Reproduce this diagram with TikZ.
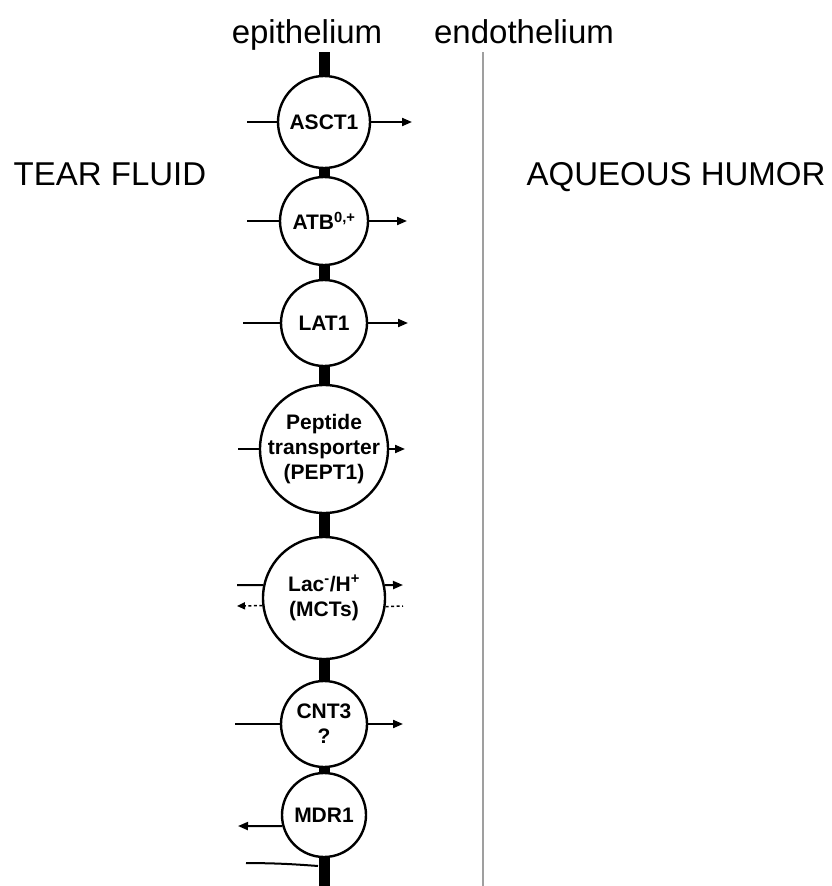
\documentclass[tikz,border=0pt]{standalone}
\usepackage{fontspec}
\setmainfont{Liberation Sans}
\usetikzlibrary{arrows.meta, positioning}

\tikzset{
  tissue/.style={anchor=base, inner sep=0pt, font=\fontsize{33}{38}\selectfont},
  transporter/.style={circle, draw, line width=2.4pt, fill=white, inner sep=0pt, align=center, font=\fontsize{21}{25}\selectfont\bfseries},
  membrane/.style={line width=11pt},
  flux/.style={line width=2pt},
  influx/.style={flux, -{Triangle[length=10pt,width=8pt]}},
  backflux/.style={line width=1.5pt, dash pattern=on 3pt off 2.5pt}
}

\begin{document}
\begin{tikzpicture}[x=1pt, y=-1pt]
\useasboundingbox (0,0) rectangle (831,886);

            % labels
            \node[tissue] (epi) at (307,43) {epithelium};
            \node[tissue] (endo) at (524,43) {endothelium};
            \node[tissue] (tear) at (110,185) {TEAR FLUID};
            \node[tissue] (aqueous) at (676,185) {AQUEOUS HUMOR};

            % transporters
            \node[transporter, minimum size=92pt] (asct) at (324,122) {ASCT1};
            \node[transporter, minimum size=88pt] (atb) at (324,221) {ATB\textsuperscript{0,+}};
            \node[transporter, minimum size=86pt] (lat) at (324,323) {LAT1};
            \node[transporter, minimum size=128pt, inner sep=-10pt] (pept) at (324,449) {Peptide\\transporter\\(PEPT1)};
            \node[transporter, minimum size=122pt] (mct) at (324,598) {Lac\textsuperscript{-}/H\textsuperscript{+}\\(MCTs)};
            \node[transporter, minimum size=86pt] (cnt) at (324,724) {CNT3\\?};
            \node[transporter, minimum size=84pt] (mdr) at (324,815) {MDR1};

            % membrane
            \coordinate (apex) at (324,52);
            \coordinate (base) at (324,886);
            \coordinate (endo-top) at (483,52);
            \coordinate (endo-bot) at (483,886);

            \draw[membrane] (apex) -- (asct.north);
            \draw[membrane] (asct.south) -- (atb.north);
            \draw[membrane] (atb.south) -- (lat.north);
            \draw[membrane] (lat.south) -- (pept.north);
            \draw[membrane] (pept.south) -- (mct.north);
            \draw[membrane] (mct.south) -- (cnt.north);
            \draw[membrane] (cnt.south) -- (mdr.north);
            \draw[membrane] (mdr.south) -- (base);
            \draw[gray!75, line width=2pt] (endo-top) -- (endo-bot);

            % fluxes
            \coordinate (asct-l) at (247,122);  \coordinate (asct-r) at (412,122);
            \coordinate (atb-l) at (247,221);   \coordinate (atb-r) at (407,221);
            \coordinate (lat-l) at (243,323);   \coordinate (lat-r) at (408,323);
            \coordinate (pept-l) at (238,449);  \coordinate (pept-r) at (405,449);
            \coordinate (mct-l) at (237,585);   \coordinate (mct-r) at (403,585);
            \coordinate (mct-bl) at (237,606);  \coordinate (mct-br) at (403,606);
            \coordinate (cnt-l) at (235,724);   \coordinate (cnt-r) at (403,724);
            \coordinate (mdr-l) at (238,826);
            \coordinate (mdr-low) at (246,863); \coordinate (mdr-foot) at (318,866);

            \draw[flux] (asct-l) -- (asct.west);
            \draw[influx] (asct.east) -- (asct-r);
            \draw[flux] (atb-l) -- (atb.west);
            \draw[influx] (atb.east) -- (atb-r);
            \draw[flux] (lat-l) -- (lat.west);
            \draw[influx] (lat.east) -- (lat-r);
            \draw[flux] (pept-l) -- (pept.west);
            \draw[influx] (pept.east) -- (pept-r);
            \draw[flux] (mct-l) -- (mct.168);
            \draw[influx] (mct.12) -- (mct-r);
            \draw[backflux, -{Triangle[length=8pt,width=7pt]}] (mct.187.5) -- (mct-bl);
            \draw[backflux] (mct.352.5) -- (mct-br);
            \draw[flux] (cnt-l) -- (cnt.west);
            \draw[influx] (cnt.east) -- (cnt-r);
            \draw[influx] (mdr.195) -- (mdr-l);
            \draw[flux] (mdr-low) to[bend left=2] (mdr-foot);

        \end{tikzpicture}
\end{document}
